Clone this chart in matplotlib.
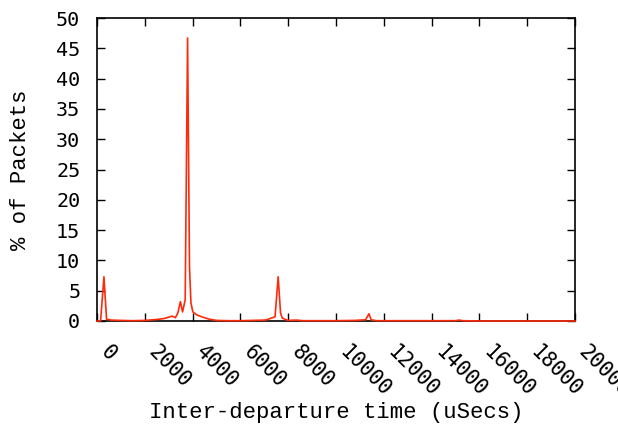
import matplotlib
matplotlib.use("Agg")
import matplotlib.pyplot as plt
from matplotlib.transforms import ScaledTranslation

# Inter-departure time histogram (uSecs vs % of packets)
times = [0, 150, 290, 400, 600, 1000, 1500, 2000, 2500, 2800, 2930, 3140, 3280,
         3380, 3490, 3580, 3690, 3790, 3870, 3930, 4010, 4180, 4450, 4700, 5000,
         5500, 6000, 6500, 7000, 7100, 7310, 7450, 7580, 7680, 7750, 7850, 8000,
         8350, 8600, 9000, 10000, 10800, 11240, 11380, 11470, 11700, 12500,
         14000, 15000, 15150, 15300, 16000, 18000, 20000]
pct = [0, 0.0, 7.3, 0.3, 0.15, 0.1, 0.05, 0.1, 0.25, 0.4, 0.55, 0.8, 0.55,
       1.3, 3.2, 1.5, 3.5, 46.7, 9.0, 3.0, 1.5, 1.0, 0.6, 0.3, 0.1,
       0.05, 0.05, 0.1, 0.15, 0.2, 0.5, 0.7, 7.3, 1.3, 0.5, 0.3, 0.1,
       0.15, 0.05, 0.05, 0.05, 0.1, 0.2, 1.2, 0.2, 0.05, 0.05,
       0.05, 0.05, 0.15, 0.05, 0.0, 0.0, 0.0]

xticks = list(range(0, 20001, 2000))
yticks = list(range(0, 51, 5))

label_font = ['Liberation Mono', 'DejaVu Sans Mono']
tick_font = ['DejaVu Sans Mono']

fig = plt.figure(figsize=(6.18, 4.26), dpi=100)
ax = fig.add_axes([97 / 618, 1 - 321 / 426, 478 / 618, 303 / 426])

ax.plot(times, pct, color='#ff2a0a', lw=1.2, zorder=3, clip_on=False)

ax.set_xlim(0, 20000)
ax.set_ylim(0, 50)
ax.set_xticks(xticks)
ax.set_yticks(yticks)
ax.set_xticklabels([])
ax.set_yticklabels([str(v) for v in yticks], family=tick_font, fontsize=14.5)
ax.tick_params(direction='in', length=6, width=1, top=True, right=True, pad=12)
for s in ax.spines.values():
    s.set_linewidth(1.2)

# rotated x tick labels, placed like gnuplot does (start just right of the tick)
shift = ScaledTranslation(14 / 100, -21 / 100, fig.dpi_scale_trans)
for t in xticks:
    ax.text(t, 0, str(t), transform=ax.get_xaxis_transform() + shift,
            rotation=-45, ha='left', va='top', rotation_mode='anchor',
            family=tick_font, fontsize=15, clip_on=False)

ax.set_xlabel('Inter-departure time (uSecs)', family=label_font, fontsize=16,
              labelpad=46)
ax.set_ylabel('% of Packets', family=label_font, fontsize=16, labelpad=18)

fig.savefig('out.png', dpi=100)
